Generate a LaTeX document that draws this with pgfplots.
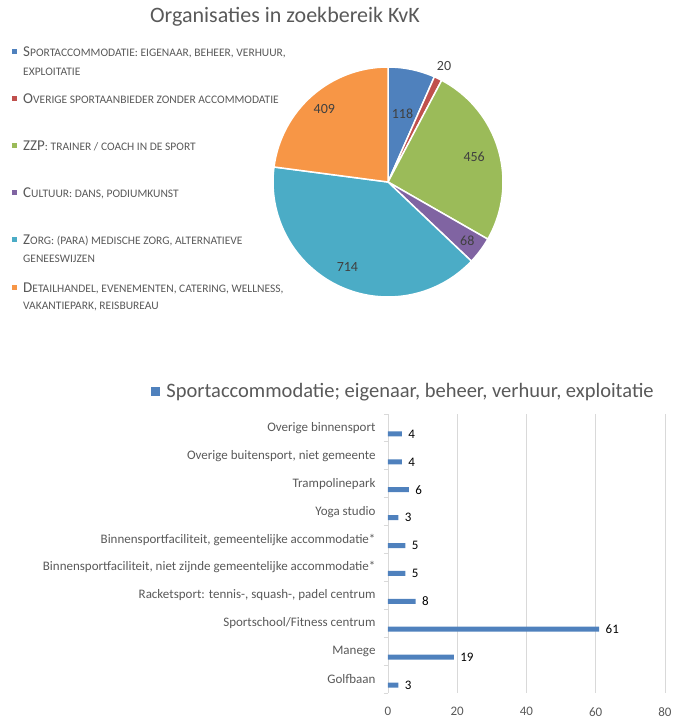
\documentclass[border=0pt]{standalone}
\usepackage{pgfplots}
\pgfplotsset{compat=1.18}
\usepackage{pgfplotstable}
\usepackage{fontspec}
\setmainfont{Carlito}

\definecolor{txt}{HTML}{595959}
\definecolor{lbl}{HTML}{404040}
\definecolor{gridc}{HTML}{D9D9D9}
\definecolor{pie0}{HTML}{4F81BD}
\definecolor{pie1}{HTML}{C0504D}
\definecolor{pie2}{HTML}{9BBB59}
\definecolor{pie3}{HTML}{8064A2}
\definecolor{pie4}{HTML}{4BACC6}
\definecolor{pie5}{HTML}{F79646}

% fake small caps
\newcommand\sm[1]{{\fontsize{11.5pt}{13pt}\selectfont\MakeUppercase{#1}}}

% pie: value, label distance (fraction of radius)
\pgfplotstableread{
value lr
118 0.61
20  1.12
456 0.78
68  0.86
714 0.82
409 0.84
}\piedata

% bars, bottom to top
\pgfplotstableread{
y value
0 3
1 19
2 61
3 8
4 5
5 5
6 3
7 6
8 4
9 4
}\sportdata

\begin{document}
\begin{tikzpicture}
\path[use as bounding box] (0pt,0pt) rectangle (681pt,723pt);

% slice angles, clockwise from 12 o'clock
\pgfmathsetmacro\pietot{0}
\pgfplotsforeachungrouped \i in {0,...,5}{%
  \pgfplotstablegetelem{\i}{value}\of\piedata
  \pgfmathsetmacro\pietot{\pietot+\pgfplotsretval}}
\pgfmathsetmacro\piecum{0}
\pgfplotsforeachungrouped \i in {0,...,5}{%
  \pgfplotstablegetelem{\i}{value}\of\piedata \let\v\pgfplotsretval
  \pgfplotstablegetelem{\i}{lr}\of\piedata \let\rr\pgfplotsretval
  \pgfmathsetmacro\sa{90-\piecum/\pietot*360}
  \pgfmathsetmacro\piecum{\piecum+\v}
  \pgfmathsetmacro\ea{90-\piecum/\pietot*360}
  \pgfmathsetmacro\lx{\rr*cos((\sa+\ea)/2)}
  \pgfmathsetmacro\ly{\rr*sin((\sa+\ea)/2)}
  \expandafter\xdef\csname pieS\i\endcsname{\sa}
  \expandafter\xdef\csname pieE\i\endcsname{\ea}
  \expandafter\xdef\csname pieX\i\endcsname{\lx}
  \expandafter\xdef\csname pieY\i\endcsname{\ly}
  \expandafter\xdef\csname pieV\i\endcsname{\v}}

\node[font=\fontsize{22}{25}\selectfont, text=txt] at (285pt,706pt) {Organisaties in zoekbereik KvK};

\begin{axis}[at={(388pt,541pt)}, anchor=center, scale only axis,
  width=230pt, height=230pt, xmin=-1, xmax=1, ymin=-1, ymax=1,
  hide axis, clip=false]
\pgfplotsinvokeforeach{0,...,5}{
  \filldraw[fill=pie#1, draw=white, line width=1.5pt, line join=round]
    (axis cs:0,0) -- (axis cs:{cos(\csname pieS#1\endcsname)},{sin(\csname pieS#1\endcsname)})
    arc[start angle=\csname pieS#1\endcsname, end angle=\csname pieE#1\endcsname, radius=115pt] -- cycle;
}
\pgfplotsinvokeforeach{0,...,5}{
  \node[font=\fontsize{14}{16}\selectfont, text=lbl]
    at (axis cs:\csname pieX#1\endcsname,\csname pieY#1\endcsname) {\csname pieV#1\endcsname};
}
\end{axis}

% pie legend
\begin{scope}[every node/.style={anchor=base west, inner sep=0pt, text=txt, font=\fontsize{15}{17}\selectfont}]
\node at (23pt,666.5pt) {S\sm{portaccommodatie: eigenaar, beheer, verhuur,}};
\node at (23pt,647.5pt) {\sm{exploitatie}};
\node at (23pt,619.5pt) {O\sm{verige sportaanbieder zonder accommodatie}};
\node at (23pt,572.5pt) {ZZP\sm{: trainer / coach in de sport}};
\node at (23pt,525.5pt) {C\sm{ultuur: dans, podiumkunst}};
\node at (23pt,478.5pt) {Z\sm{org: (para) medische zorg, alternatieve}};
\node at (23pt,460.5pt) {\sm{geneeswijzen}};
\node at (23pt,430.5pt) {D\sm{etailhandel, evenementen, catering, wellness,}};
\node at (23pt,413.5pt) {\sm{vakantiepark, reisbureau}};
\end{scope}
\fill[pie0] (12pt,668.5pt) rectangle +(5pt,5pt);
\fill[pie1] (12pt,621.5pt) rectangle +(5pt,5pt);
\fill[pie2] (12pt,574.5pt) rectangle +(5pt,5pt);
\fill[pie3] (12pt,527.5pt) rectangle +(5pt,5pt);
\fill[pie4] (12pt,480.5pt) rectangle +(5pt,5pt);
\fill[pie5] (12pt,432.5pt) rectangle +(5pt,5pt);

\begin{axis}[at={(388pt,30pt)}, anchor=south west, scale only axis,
  width=277pt, height=279pt,
  xbar, bar width=5pt, bar shift=-6pt,
  xmin=0, xmax=80, xtick={0,20,...,80},
  ymin=-0.5, ymax=9.5, ytick={0,...,9},
  yticklabels={Golfbaan, Manege, Sportschool/Fitness centrum,
    {Racketsport: tennis-, squash-, padel centrum},
    {Binnensportfaciliteit, niet zijnde gemeentelijke accommodatie*},
    {Binnensportfaciliteit, gemeentelijke accommodatie*},
    Yoga studio, Trampolinepark, {Overige buitensport, niet gemeente},
    Overige binnensport},
  minor ytick={-0.5,0.5,...,9.5},
  axis x line*=bottom, axis y line*=left,
  x axis line style={draw=none}, y axis line style={draw=gridc, line width=0.8pt},
  xmajorgrids, major grid style={gridc, line width=0.8pt},
  major tick length=0pt, minor tick length=4pt, tick align=outside,
  minor tick style={gridc, line width=0.8pt},
  tick label style={font=\fontsize{13}{15}\selectfont, text=txt},
  yticklabel style={xshift=-9pt},
  xticklabel style={yshift=-11pt},
  /pgf/number format/assume math mode=true,
  nodes near coords, nodes near coords align=horizontal,
  every node near coord/.append style={font=\fontsize{13}{15}\selectfont, text=black, xshift=3pt},
  legend style={at={(0.056,1.0806)}, anchor=center, draw=none, fill=none,
    font=\fontsize{20.5}{23}\selectfont, text=txt,
    /tikz/every odd column/.append style={column sep=4pt}},
  legend image code/.code={\fill[pie0] (0pt,-4.5pt) rectangle (9pt,4.5pt);},
]
\addplot[fill=pie0, draw=none] table[x=value, y=y] {\sportdata};
\addlegendentry{Sportaccommodatie; eigenaar, beheer, verhuur, exploitatie}
\end{axis}
\end{tikzpicture}
\end{document}
